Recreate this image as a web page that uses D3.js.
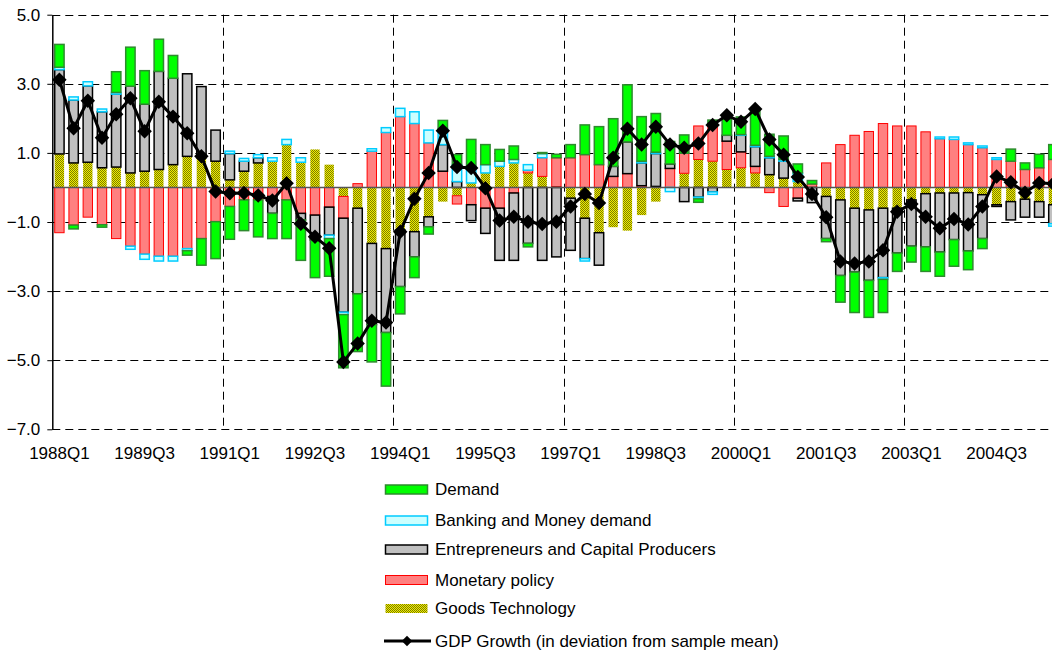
<!DOCTYPE html>
<html><head><meta charset="utf-8">
<script src="https://cdn.jsdelivr.net/npm/d3@7"></script>
<style>
html,body{margin:0;padding:0;background:#fff;}
svg{display:block;font-family:"Liberation Sans",Arial,sans-serif;}
</style></head><body>
<svg id="chart" width="1052" height="655"></svg>
<script>
const categories = [
 "1988Q1","1988Q2","1988Q3","1988Q4","1989Q1","1989Q2","1989Q3","1989Q4",
 "1990Q1","1990Q2","1990Q3","1990Q4","1991Q1","1991Q2","1991Q3","1991Q4",
 "1992Q1","1992Q2","1992Q3","1992Q4","1993Q1","1993Q2","1993Q3","1993Q4",
 "1994Q1","1994Q2","1994Q3","1994Q4","1995Q1","1995Q2","1995Q3","1995Q4",
 "1996Q1","1996Q2","1996Q3","1996Q4","1997Q1","1997Q2","1997Q3","1997Q4",
 "1998Q1","1998Q2","1998Q3","1998Q4","1999Q1","1999Q2","1999Q3","1999Q4",
 "2000Q1","2000Q2","2000Q3","2000Q4","2001Q1","2001Q2","2001Q3","2001Q4",
 "2002Q1","2002Q2","2002Q3","2002Q4","2003Q1","2003Q2","2003Q3","2003Q4",
 "2004Q1","2004Q2","2004Q3","2004Q4","2005Q1","2005Q2","2005Q3"];

const goodsTechnology = [
 0.97,0.71,0.73,0.57,0.59,0.42,0.47,0.52,0.66,0.90,0.86,0.76,0.22,0.47,0.71,0.76,
 1.24,0.73,1.10,0.66,-0.26,-0.60,-1.62,-1.77,-1.23,-1.28,-0.85,-0.41,-0.24,0.13,0.42,0.61,
 0.71,0.42,0.32,0.02,-0.31,-0.89,-1.31,-1.15,-1.25,-0.80,-0.41,0.00,0.41,0.81,0.76,0.52,
 0.57,0.42,0.37,0.27,0.17,0.00,-0.26,-0.36,-0.60,-0.65,-0.60,-0.60,-0.36,-0.18,-0.16,-0.16,
 -0.15,-0.21,-0.50,-0.41,-0.34,-0.41,-0.50];

const monetaryPolicy = [
 -1.31,-1.09,-0.86,-1.08,-1.48,-1.70,-1.93,-1.99,-1.99,-1.77,-1.48,-0.99,-0.55,-0.36,-0.36,-0.26,
 -0.36,-0.75,-0.80,-0.57,-0.63,0.11,1.05,1.59,2.05,1.85,1.29,0.47,-0.24,-0.50,-0.60,-0.60,
 -0.16,0.08,0.54,0.84,0.86,0.95,0.66,0.32,0.40,0.05,0.03,0.55,0.58,0.97,1.02,0.82,
 0.46,0.19,-0.15,-0.55,-0.31,0.10,0.71,1.24,1.51,1.62,1.85,1.78,1.78,1.61,1.41,1.39,
 1.24,1.15,0.81,0.76,0.52,0.57,0.81];

const entrepreneurs = [
 2.44,1.82,2.21,1.62,2.11,2.51,1.94,2.84,2.50,2.39,2.06,0.90,0.76,0.29,0.15,-0.49,
 0.00,-0.19,-0.72,-0.81,-2.72,-2.48,-2.35,-2.43,-1.64,-0.73,-0.29,0.77,0.17,-0.46,-0.73,-1.51,
 -1.95,-1.62,-2.11,-2.01,-1.51,-1.17,-0.94,0.29,0.92,0.66,0.95,0.13,-0.41,-0.28,-0.13,0.17,
 0.48,0.57,0.49,0.49,-0.08,-0.44,-1.22,-2.19,-1.85,-2.04,-2.01,-1.30,-1.34,-1.54,-1.71,-1.35,
 -1.69,-1.27,-0.05,-0.53,-0.52,-0.45,-0.55];

const bankingMoneyDemand = [
 0.07,0.09,0.12,0.08,0.05,-0.09,-0.15,-0.14,-0.14,-0.06,0.00,0.00,0.07,0.08,0.09,0.10,
 0.15,0.13,0.00,-0.10,-0.07,0.00,0.07,0.14,0.24,0.34,0.37,0.45,0.49,0.48,0.24,0.15,
 0.10,0.16,0.12,0.00,0.00,-0.07,0.00,0.00,0.00,0.05,0.04,-0.12,0.00,-0.05,-0.07,0.00,
 0.02,0.04,0.04,0.05,0.25,0.00,0.00,0.00,0.00,0.00,-0.05,0.00,0.00,0.00,0.05,0.07,
 0.05,0.05,0.05,0.00,0.00,0.00,-0.07];

const demand = [
 0.66,-0.11,0.00,-0.07,0.60,1.13,0.97,0.93,0.66,-0.13,-0.77,-1.07,-0.95,-0.89,-1.07,-0.73,
 -1.12,-1.17,-1.09,-1.09,-1.54,-1.67,-1.08,-1.55,-0.79,-0.60,-0.21,0.25,0.29,0.78,0.58,0.34,
 0.39,-0.10,0.03,0.10,0.38,0.86,1.10,1.38,1.65,1.29,1.12,0.65,0.53,-0.10,0.17,0.47,
 0.51,1.05,0.64,0.68,0.26,0.10,-0.09,-0.77,-1.17,-1.07,-0.96,-0.53,-0.46,-0.71,-0.70,-0.77,
 -0.54,-0.29,0.00,0.35,0.19,0.39,0.43];

const gdpGrowth = [
 3.12,1.71,2.51,1.44,2.12,2.58,1.63,2.48,2.05,1.57,0.90,-0.12,-0.17,-0.16,-0.23,-0.38,
 0.12,-1.05,-1.43,-1.76,-5.05,-4.52,-3.86,-3.91,-1.28,-0.33,0.42,1.64,0.59,0.56,-0.02,-0.96,
 -0.85,-0.99,-1.06,-0.99,-0.55,-0.19,-0.45,0.86,1.70,1.24,1.76,1.24,1.15,1.27,1.81,2.09,
 1.90,2.27,1.39,0.95,0.30,-0.19,-0.86,-2.14,-2.20,-2.14,-1.82,-0.70,-0.48,-0.85,-1.18,-0.91,
 -1.07,-0.55,0.32,0.15,-0.15,0.13,0.11];

const yTicks = [-7,-5,-3,-1,1,3,5];
const xTickLabels = ["1988Q1","1989Q3","1991Q1","1992Q3","1994Q1","1995Q3","1997Q1","1998Q3","2000Q1","2001Q3","2003Q1","2004Q3"];
const gridCategories = ["1991Q1","1994Q1","1997Q1","2000Q1","2003Q1"];

const barSeries = [
 {key:"goods", name:"Goods Technology", values:goodsTechnology},
 {key:"monetary", name:"Monetary policy", values:monetaryPolicy},
 {key:"entre", name:"Entrepreneurs and Capital Producers", values:entrepreneurs},
 {key:"banking", name:"Banking and Money demand", values:bankingMoneyDemand},
 {key:"demand", name:"Demand", values:demand}
];
const lineName = "GDP Growth (in deviation from sample mean)";

const styles = {
 goods:{fill:"url(#goodsPat)", stroke:"none", sw:0},
 monetary:{fill:"#FF8080", stroke:"#FF0000", sw:1},
 entre:{fill:"#C0C0C0", stroke:"#000000", sw:1.5},
 banking:{fill:"#CCFFFF", stroke:"#00CCFF", sw:1.5},
 demand:{fill:"#00FF00", stroke:"#2E8B2E", sw:1.5}
};

const svg = d3.select("#chart");
const plotLeft = 52.3, stepW = 14.2, plotTop = 14.7, plotBottom = 429.3, plotRight = 1052;
const x = d3.scaleBand().domain(categories)
  .range([plotLeft, plotLeft + stepW*categories.length]).paddingInner(0.34).paddingOuter(0.17);
const y = d3.scaleLinear().domain([-7,5]).range([plotBottom, plotTop]);
const cx = c => x(c) + x.bandwidth()/2;
const boundary = c => x(c) - (x.step()-x.bandwidth())/2;

const defs = svg.append("defs");
const pat = defs.append("pattern").attr("id","goodsPat").attr("width",2).attr("height",2)
  .attr("patternUnits","userSpaceOnUse");
pat.append("rect").attr("width",2).attr("height",2).attr("fill","#F2F000");
pat.append("rect").attr("width",1).attr("height",1).attr("fill","#7A7A00");
pat.append("rect").attr("x",1).attr("y",1).attr("width",1).attr("height",1).attr("fill","#7A7A00");

// horizontal grid
svg.append("g").selectAll("line").data(yTicks).join("line")
  .attr("x1", plotLeft).attr("x2", plotRight)
  .attr("y1", d => Math.round(y(d))+0.5).attr("y2", d => Math.round(y(d))+0.5)
  .attr("stroke","#000").attr("stroke-width",1).attr("stroke-dasharray","8,5");
// vertical grid
svg.append("g").selectAll("line").data(gridCategories).join("line")
  .attr("x1", d => Math.round(boundary(d))+0.5).attr("x2", d => Math.round(boundary(d))+0.5)
  .attr("y1", plotTop).attr("y2", plotBottom)
  .attr("stroke","#000").attr("stroke-width",1).attr("stroke-dasharray","8,5");

// stacked bars
const rows = categories.map((c,i) => {
  const r = {cat:c};
  barSeries.forEach(s => r[s.key] = s.values[i]);
  return r;
});
const stack = d3.stack().keys(barSeries.map(s=>s.key)).offset(d3.stackOffsetDiverging);
const stacked = stack(rows);
const bw = x.bandwidth();
stacked.forEach(layer => {
  const st = styles[layer.key];
  svg.append("g").selectAll("rect")
    .data(layer.filter(d => Math.abs(d[1]-d[0]) > 1e-9))
    .join("rect")
    .attr("x", d => x(d.data.cat))
    .attr("width", bw)
    .attr("y", d => y(Math.max(d[0],d[1])))
    .attr("height", d => Math.abs(y(d[0]) - y(d[1])))
    .attr("fill", st.fill)
    .attr("stroke", st.stroke)
    .attr("stroke-width", st.sw);
});

// zero line
svg.append("line").attr("x1",plotLeft).attr("x2",plotRight)
  .attr("y1",y(0)).attr("y2",y(0)).attr("stroke","#555").attr("stroke-width",1.5);

// y axis
const yAxis = d3.axisLeft(y).tickValues(yTicks).tickFormat(d3.format(".1f"))
  .tickSize(5).tickSizeOuter(0).tickPadding(7);
const ga = svg.append("g").attr("transform",`translate(${plotLeft},0)`).call(yAxis);
ga.select(".domain").attr("stroke","#000").attr("stroke-width",1.5);
ga.selectAll(".tick line").attr("stroke","#000");
ga.selectAll(".tick text").attr("font-size",17).attr("fill","#000")
  .attr("font-family","'Liberation Sans',Arial,sans-serif");

// x labels
svg.append("g").selectAll("text").data(xTickLabels).join("text")
  .attr("x", d => cx(d)).attr("y", 459)
  .attr("text-anchor","middle").attr("font-size",17).attr("fill","#000")
  .text(d => d);

// GDP line
const line = d3.line().x((d,i) => cx(categories[i])).y(d => y(d));
svg.append("path").datum(gdpGrowth).attr("d", line)
  .attr("fill","none").attr("stroke","#000").attr("stroke-width",3).attr("stroke-linejoin","round");
const diamond = d3.symbol().type(d3.symbolSquare).size(105);
svg.append("g").selectAll("path").data(gdpGrowth).join("path")
  .attr("d", diamond)
  .attr("transform", (d,i) => `translate(${cx(categories[i])},${y(d)}) rotate(45)`)
  .attr("fill","#000");

// legend
const legendItems = [
 {key:"demand", name:"Demand", y:489.5},
 {key:"banking", name:"Banking and Money demand", y:520.5},
 {key:"entre", name:"Entrepreneurs and Capital Producers", y:549.5},
 {key:"monetary", name:"Monetary policy", y:580},
 {key:"goods", name:"Goods Technology", y:608.5}
];
const lg = svg.append("g");
legendItems.forEach(it => {
  const st = styles[it.key];
  lg.append("rect").attr("x",385.5).attr("y",it.y-4.5).attr("width",42).attr("height",9)
    .attr("fill",st.fill).attr("stroke",st.stroke).attr("stroke-width",st.sw);
  lg.append("text").attr("x",435).attr("y",it.y).attr("dy","0.35em")
    .attr("font-size",17).attr("fill","#000").text(it.name);
});
lg.append("line").attr("x1",384).attr("x2",431).attr("y1",641).attr("y2",641)
  .attr("stroke","#000").attr("stroke-width",3);
lg.append("path").attr("d", d3.symbol().type(d3.symbolSquare).size(55))
  .attr("transform","translate(407,641) rotate(45)").attr("fill","#000");
lg.append("text").attr("x",435).attr("y",641).attr("dy","0.35em")
  .attr("font-size",17).attr("fill","#000").text(lineName);
</script>
</body></html>
